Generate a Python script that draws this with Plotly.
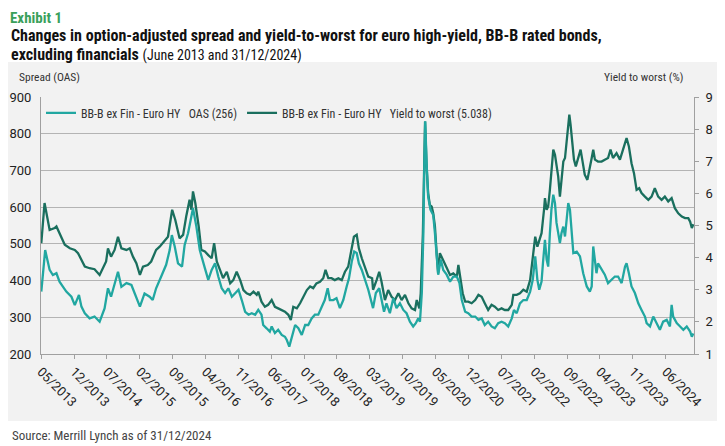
import plotly.graph_objects as go

# option-adjusted spread (bp)
oas_dates = [
    "2013-05-03","2013-05-28","2013-06-26","2013-07-17","2013-08-09","2013-08-29","2013-09-21","2013-10-12",
    "2013-11-14","2013-12-06","2014-01-02","2014-01-18","2014-02-09","2014-03-12","2014-04-13","2014-05-16",
    "2014-06-17","2014-07-09","2014-07-29","2014-09-12","2014-10-04","2014-11-06","2014-12-08","2014-12-29",
    "2015-02-01","2015-03-03","2015-04-05","2015-04-25","2015-05-17","2015-06-19","2015-07-21","2015-08-13",
    "2015-08-27","2015-09-15","2015-10-06","2015-11-01","2015-11-18","2015-12-10","2016-01-01","2016-01-11",
    "2016-02-02","2016-02-24",
    "2016-03-28","2016-04-19","2016-05-11","2016-06-02","2016-06-23","2016-07-15","2016-08-06","2016-08-27",
    "2016-09-19","2016-10-10","2016-11-01","2016-11-22","2016-12-14","2017-01-05","2017-01-26","2017-02-17",
    "2017-03-09","2017-03-30","2017-04-10","2017-05-02","2017-05-23","2017-06-04","2017-06-25","2017-07-16",
    "2017-08-08","2017-08-29","2017-09-10","2017-09-26","2017-10-16","2017-11-03","2017-11-24","2017-12-16",
    "2018-01-07","2018-01-27","2018-02-18","2018-03-11","2018-04-02","2018-04-23","2018-05-14","2018-06-02",
    "2018-06-16","2018-07-08","2018-07-29","2018-08-20","2018-09-11","2018-10-03","2018-10-18","2018-11-05",
    "2018-11-21","2018-12-07","2018-12-21","2019-01-09","2019-01-29","2019-02-20",
    "2019-03-23","2019-04-10","2019-05-02","2019-05-17","2019-06-02","2019-06-18","2019-07-10","2019-08-01",
    "2019-08-22","2019-09-13","2019-10-05","2019-10-26","2019-11-17","2019-12-08","2019-12-25","2020-01-10",
    "2020-01-21","2020-02-02","2020-02-12","2020-02-18","2020-02-24","2020-03-04","2020-03-14","2020-03-29",
    "2020-04-16","2020-04-27","2020-05-08","2020-05-18","2020-06-04","2020-06-20","2020-07-12","2020-08-03",
    "2020-08-24","2020-09-16","2020-10-03","2020-10-18","2020-11-09","2020-11-29","2020-12-21","2021-01-13",
    "2021-02-03","2021-02-24","2021-03-16","2021-04-07","2021-04-29","2021-05-20","2021-06-11","2021-07-03",
    "2021-07-24","2021-08-15","2021-09-07","2021-09-21","2021-10-09","2021-10-30","2021-11-21","2021-12-13",
    "2022-01-04",
    "2022-01-21","2022-02-06","2022-02-20","2022-03-04","2022-03-19","2022-03-28","2022-04-10","2022-04-21",
    "2022-05-01","2022-05-12","2022-05-22","2022-06-03","2022-06-14","2022-06-24","2022-07-05","2022-07-16",
    "2022-07-26","2022-08-07","2022-08-18","2022-08-28","2022-09-08","2022-09-19","2022-09-30","2022-10-11",
    "2022-11-02","2022-11-23","2022-12-14","2023-01-06","2023-01-26","2023-02-07","2023-02-17","2023-02-28",
    "2023-03-10","2023-03-20","2023-04-12","2023-05-03","2023-05-24","2023-06-16","2023-07-07","2023-07-28",
    "2023-08-20","2023-09-11","2023-09-21","2023-10-06","2023-10-23","2023-11-14","2023-12-06","2023-12-27",
    "2024-01-18","2024-01-29","2024-02-20","2024-03-12","2024-04-03","2024-04-24","2024-05-15","2024-06-07",
    "2024-06-28","2024-07-09","2024-07-19","2024-08-11","2024-09-02","2024-09-23","2024-10-15","2024-11-06",
    "2024-11-17","2024-11-27",
]
oas_values = [
    370, 483, 429, 415, 420, 397, 383, 370,
    356, 333, 361, 329, 311, 297, 302, 288,
    324, 379, 356, 424, 383, 393, 388, 365,
    329, 365, 356, 347, 379, 411, 443, 483,
    524, 492, 447, 438, 497, 529, 574, 597,
    547, 483,
    434, 402, 429, 447, 411, 379, 366, 379,
    356, 366, 375, 347, 315, 307, 311, 307,
    320, 307, 279, 270, 261, 275, 257, 266,
    252, 247, 238, 220, 252, 279, 270, 252,
    279, 279, 297, 307, 307, 329, 347, 379,
    347, 347, 352, 325, 347, 384, 406, 452,
    479, 475, 447, 429, 402, 375,
    325, 366, 379, 347, 315, 338, 311, 352,
    325, 338, 320, 311, 288, 275, 284, 297,
    288, 366, 529, 711, 834, 720, 629, 593,
    579, 529, 457, 416, 457, 429, 416, 397,
    411, 411, 393, 347, 315, 311, 302, 302,
    293, 297, 279, 288, 275, 270, 284, 288,
    284, 275, 297, 320, 311, 338, 347, 347,
    370,
    402, 466, 402, 375, 397, 447, 511, 457,
    438, 529, 593, 634, 611, 557, 529, 502,
    529, 547, 520, 566, 611, 593, 538, 475,
    479, 466, 420, 384, 370, 384, 493, 447,
    420, 447, 429, 416, 393, 402, 411, 411,
    393, 438, 447, 420, 384, 366, 338, 320,
    302, 284, 275, 302, 284, 266, 288, 293,
    275, 334, 302, 284, 275, 266, 275, 261,
    247, 256,
]

# yield to worst (%)
ytw_dates = [
    "2013-05-03","2013-05-24","2013-06-26","2013-07-28","2013-08-09","2013-08-29","2013-10-02","2013-11-04",
    "2013-12-06","2013-12-27","2014-01-18","2014-02-09","2014-03-12","2014-04-13","2014-05-16","2014-06-07",
    "2014-06-27","2014-07-09","2014-07-29","2014-08-21","2014-09-12","2014-10-04","2014-11-06","2014-11-27",
    "2014-12-18","2015-01-09","2015-02-01","2015-02-21","2015-03-24","2015-04-15","2015-05-17","2015-06-09",
    "2015-08-02","2015-08-29","2015-09-18","2015-10-16","2015-11-08","2015-11-28","2015-12-20","2016-01-01",
    "2016-01-11","2016-01-26","2016-02-17","2016-03-05",
    "2016-03-28","2016-04-19","2016-05-11","2016-05-27","2016-06-13","2016-07-04","2016-07-24","2016-08-17",
    "2016-09-08","2016-09-28","2016-10-20","2016-11-12","2016-12-03","2016-12-24","2017-01-15","2017-02-06",
    "2017-02-27","2017-03-09","2017-03-30","2017-04-21","2017-05-12","2017-06-04","2017-06-25","2017-07-16",
    "2017-08-08","2017-08-29","2017-09-20","2017-10-06","2017-10-22","2017-11-14","2017-12-05","2017-12-25",
    "2018-01-18","2018-02-08","2018-02-28","2018-03-21","2018-04-13","2018-05-04","2018-05-19","2018-06-06",
    "2018-06-27","2018-07-18","2018-08-10","2018-09-01","2018-09-22","2018-10-13","2018-11-05","2018-11-19",
    "2018-12-07","2018-12-21","2019-01-09","2019-01-29","2019-02-20",
    "2019-03-17","2019-03-23","2019-04-15","2019-05-02","2019-05-17","2019-06-08","2019-06-29","2019-07-21",
    "2019-08-12","2019-09-03","2019-09-24","2019-10-16","2019-11-07","2019-11-28","2019-12-20","2019-12-31",
    "2020-01-17","2020-01-26","2020-02-09","2020-02-17","2020-02-23","2020-03-04","2020-03-14","2020-03-25",
    "2020-04-06","2020-04-16","2020-04-27","2020-05-08","2020-05-18","2020-05-29","2020-06-20","2020-07-12",
    "2020-08-03","2020-08-24","2020-09-16","2020-09-26","2020-10-11","2020-10-24","2020-11-09","2020-11-29",
    "2020-12-21","2021-01-13","2021-02-03","2021-02-24","2021-03-16","2021-04-07","2021-04-29","2021-05-20",
    "2021-06-11","2021-07-03","2021-07-24","2021-08-15","2021-09-07","2021-09-17","2021-10-09","2021-10-30",
    "2021-11-21","2021-12-13","2022-01-04",
    "2022-01-21","2022-02-06","2022-02-20","2022-03-04","2022-03-19","2022-04-04","2022-04-10","2022-04-21",
    "2022-05-01","2022-05-12","2022-05-22","2022-06-03","2022-06-14","2022-06-24","2022-07-05","2022-07-16",
    "2022-07-26","2022-08-07","2022-08-18","2022-08-28","2022-09-08","2022-09-15","2022-09-23","2022-10-04",
    "2022-10-15","2022-10-27","2022-11-12","2022-11-27","2022-12-10","2022-12-24","2023-01-10","2023-01-22",
    "2023-02-07","2023-02-17","2023-02-28","2023-03-20","2023-04-12","2023-05-03","2023-05-24","2023-06-09",
    "2023-06-25","2023-07-18","2023-08-09","2023-08-29","2023-09-21","2023-10-06","2023-10-23","2023-11-08",
    "2023-11-25","2023-12-12","2023-12-27","2024-01-18","2024-02-09","2024-03-01","2024-03-22","2024-04-13",
    "2024-05-05","2024-05-26","2024-06-17","2024-07-09","2024-07-30","2024-08-21","2024-09-13","2024-10-04",
    "2024-10-25","2024-11-06","2024-11-17","2024-11-27",
]
ytw_values = [
    4.45, 5.70, 4.86, 4.92, 4.97, 4.76, 4.40, 4.29,
    4.24, 4.14, 3.93, 3.72, 3.67, 3.64, 3.46, 3.67,
    3.88, 4.29, 4.03, 4.24, 4.65, 4.29, 4.24, 4.29,
    4.03, 3.83, 3.46, 3.72, 3.77, 3.88, 4.24, 4.34,
    4.65, 5.49, 5.18, 4.60, 4.71, 5.28, 5.80, 5.49,
    6.06, 5.70, 4.97, 4.24,
    4.19, 4.08, 3.98, 4.45, 3.88, 3.62, 3.36, 3.56,
    3.20, 3.30, 3.56, 3.30, 2.99, 2.89, 2.84, 2.94,
    2.84, 2.94, 2.63, 2.47, 2.53, 2.68, 2.47, 2.42,
    2.37, 2.32, 2.22, 2.06, 2.47, 2.42, 2.58, 2.78,
    2.99, 3.10, 3.05, 3.20, 3.25, 3.36, 3.62, 3.36,
    3.36, 3.30, 3.36, 3.30, 3.56, 3.72, 4.34, 4.65,
    4.71, 4.29, 3.98, 3.72, 3.41,
    3.36, 3.00, 3.30, 3.56, 3.25, 2.68, 2.99, 2.78,
    2.68, 2.89, 2.68, 2.84, 2.58, 2.42, 2.37, 2.68,
    2.42, 2.89, 4.76, 6.84, 8.24, 6.84, 6.01, 5.64,
    5.59, 5.38, 4.97, 4.14, 3.51, 4.14, 3.93, 3.72,
    3.46, 3.51, 3.41, 3.77, 3.30, 2.89, 2.63, 2.63,
    2.58, 2.68, 2.84, 2.78, 2.58, 2.37, 2.53, 2.47,
    2.37, 2.42, 2.37, 2.37, 2.53, 2.84, 2.84, 2.89,
    3.00, 2.94, 3.30,
    4.03, 4.65, 4.34, 4.55, 4.76, 5.49, 5.85, 5.49,
    5.59, 6.11, 6.73, 7.36, 7.20, 6.84, 6.52, 5.90,
    6.32, 6.99, 7.10, 7.67, 8.19, 8.45, 8.14, 7.46,
    7.05, 6.84, 7.15, 7.36, 6.99, 6.58, 6.42, 6.68,
    7.10, 7.36, 7.05, 6.99, 6.99, 7.05, 7.10, 7.36,
    7.10, 7.25, 7.05, 7.36, 7.72, 7.46, 6.94, 6.63,
    6.11, 6.16, 6.01, 5.90, 5.80, 5.90, 6.16, 5.90,
    5.80, 5.90, 5.75, 5.85, 5.54, 5.38, 5.28, 5.23,
    5.23, 5.12, 4.92, 5.04,
]

tick_dates = ["2013-05-01","2013-12-01","2014-07-01","2015-02-01","2015-09-01","2016-04-01","2016-11-01",
              "2017-06-01","2018-01-01","2018-08-01","2019-03-01","2019-10-01","2020-05-01","2020-12-01",
              "2021-07-01","2022-02-01","2022-09-01","2023-04-01","2023-11-01","2024-06-01"]
tick_labels = ["05/2013","12/2013","07/2014","02/2015","09/2015","04/2016","11/2016","06/2017","01/2018",
               "08/2018","03/2019","10/2019","05/2020","12/2020","07/2021","02/2022","09/2022","04/2023",
               "11/2023","06/2024"]

NARROW = "Liberation Sans Narrow, Roboto Condensed, DejaVu Sans Condensed, Roboto, sans-serif"
TICKFONT = dict(family="Roboto, sans-serif", size=13, color="#222")
LIGHT = "#21a7a1"
DARK = "#1a6f5e"
BG = "#f2f2f2"
nb = "\u00a0"

fig = go.Figure()
fig.add_trace(go.Scatter(x=oas_dates, y=oas_values, mode="lines", yaxis="y2",
                         name=f"BB-B ex Fin - Euro HY{nb*3}OAS (256)",
                         line=dict(color=LIGHT, width=2.3)))
fig.add_trace(go.Scatter(x=ytw_dates, y=ytw_values, mode="lines", yaxis="y",
                         name=f"BB-B ex Fin - Euro HY{nb*3}Yield to worst (5.038)",
                         line=dict(color=DARK, width=2.3)))

# page has an 8px body margin, so the figure is 8px smaller and starts 8px in
fig.update_layout(
    width=717, height=438,
    margin=dict(l=33, r=31, t=89, b=92, autoexpand=False),
    paper_bgcolor="white", plot_bgcolor=BG,
    font=dict(family=NARROW, color="#222"),
    showlegend=True,
    legend=dict(orientation="h", x=0.0, y=0.938, xanchor="left", yanchor="middle",
                bgcolor="rgba(0,0,0,0)", font=dict(family=NARROW, size=12, color="#333"),
                itemwidth=30, tracegroupgap=0),
    xaxis=dict(type="date", range=["2013-05-01", "2024-12-01"], tickvals=tick_dates, ticktext=tick_labels,
               tickangle=45, tickfont=TICKFONT, showgrid=False, showline=True, linecolor="#a0a0a0",
               ticks="outside", ticklen=4, tickcolor="#a0a0a0", zeroline=False, automargin=False),
    yaxis=dict(side="right", range=[1, 9], dtick=1, showgrid=False, showline=True, linecolor="#a0a0a0",
               ticks="outside", ticklen=4, tickcolor="#a0a0a0", tickfont=TICKFONT, zeroline=False,
               ticklabelstandoff=4, automargin=False),
    yaxis2=dict(overlaying="y", side="left", range=[200, 900], dtick=100, showgrid=True,
                gridcolor="#b4b4b4", gridwidth=1, showline=True, linecolor="#a0a0a0",
                tickfont=TICKFONT, zeroline=False, ticklabelstandoff=6, automargin=False),
    shapes=[dict(type="rect", xref="paper", yref="paper", x0=-0.0628, x1=1.0475, y0=-0.2607, y1=1.136,
                 fillcolor=BG, line=dict(width=0), layer="below")],
    annotations=[
        dict(text="<b>Exhibit 1</b>", xref="paper", yref="paper", x=-0.0490, y=1.3463, xanchor="left",
             yanchor="top", showarrow=False, borderpad=0, font=dict(family=NARROW, size=15, color="#3aa05b")),
        dict(text="<b>Changes in option-adjusted spread and yield-to-worst for euro high-yield, BB-B rated bonds,</b>",
             xref="paper", yref="paper", x=-0.0490, y=1.2412, xanchor="left", yanchor="middle", showarrow=False,
             font=dict(family=NARROW, size=16, color="#111")),
        dict(text="<b>excluding financials</b> <span style='font-size:14px'>(June 2013 and 31/12/2024)</span>",
             xref="paper", yref="paper", x=-0.0490, y=1.1673, xanchor="left", yanchor="middle", showarrow=False,
             font=dict(family=NARROW, size=16, color="#111")),
        dict(text="Spread (OAS)", xref="paper", yref="paper", x=-0.037, y=1.078, xanchor="left",
             yanchor="middle", showarrow=False, font=dict(family=NARROW, size=11.5, color="#333")),
        dict(text="Yield to worst (%)", xref="paper", yref="paper", x=0.986, y=1.078, xanchor="right",
             yanchor="middle", showarrow=False, font=dict(family=NARROW, size=11.5, color="#333")),
        dict(text="Source: Merrill Lynch as of 31/12/2024", xref="paper", yref="paper", x=-0.0475, y=-0.319,
             xanchor="left", yanchor="middle", showarrow=False, font=dict(family=NARROW, size=13, color="#444")),
    ],
)

fig.write_html("out.html")
